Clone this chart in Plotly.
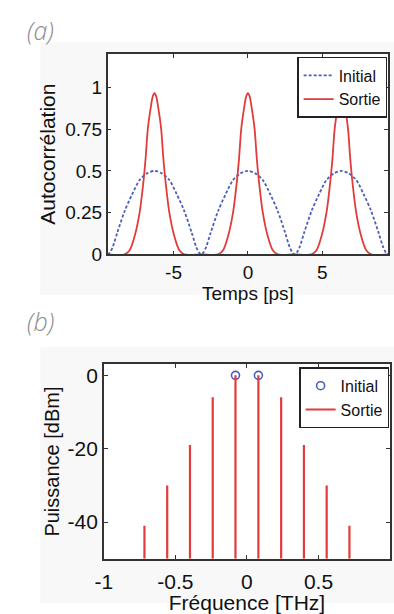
import plotly.graph_objects as go

# (a) autocorrélation
t_init = [-9.42, -9.28, -9.08, -8.78, -8.28, -7.78, -7.28, -6.78, -6.28, -5.78, -5.28, -4.78, -4.28, -3.78, -3.48, -3.28,
          -3.14, -3.00, -2.80, -2.50, -2.00, -1.50, -1.00, -0.50, 0.00, 0.50, 1.00, 1.50, 2.00, 2.50, 2.80, 3.00,
          3.14, 3.28, 3.48, 3.78, 4.28, 4.78, 5.28, 5.78, 6.28, 6.78, 7.28, 7.78, 8.28, 8.78, 9.08, 9.28, 9.42]
ac_init = [0.0, 0.01, 0.045, 0.13, 0.26, 0.36, 0.445, 0.485, 0.50, 0.485, 0.445, 0.36, 0.26, 0.13, 0.045, 0.01,
           0.0, 0.01, 0.045, 0.13, 0.26, 0.36, 0.445, 0.485, 0.50, 0.485, 0.445, 0.36, 0.26, 0.13, 0.045, 0.01,
           0.0, 0.01, 0.045, 0.13, 0.26, 0.36, 0.445, 0.485, 0.50, 0.485, 0.445, 0.36, 0.26, 0.13, 0.045, 0.01, 0.0]

t_sortie = [-9.42, -8.28, -7.95, -7.61, -7.28, -7.03, -6.88, -6.73, -6.53, -6.40, -6.28, -6.16, -6.03, -5.83, -5.68,
            -5.53, -5.28, -4.95, -4.61, -4.28, -3.14,
            -2.00, -1.67, -1.33, -1.00, -0.75, -0.60, -0.45, -0.25, -0.12, 0.00, 0.12, 0.25, 0.45, 0.60, 0.75,
            1.00, 1.33, 1.67, 2.00, 3.14,
            4.28, 4.61, 4.95, 5.28, 5.53, 5.68, 5.83, 6.03, 6.16, 6.28, 6.40, 6.53, 6.73, 6.88, 7.03,
            7.28, 7.61, 7.95, 8.28, 9.42]
ac_sortie = [0.0, 0.0, 0.025, 0.11, 0.25, 0.43, 0.57, 0.75, 0.88, 0.945, 0.965, 0.945, 0.88, 0.75, 0.57,
             0.43, 0.25, 0.11, 0.025, 0.0, 0.0,
             0.0, 0.025, 0.11, 0.25, 0.43, 0.57, 0.75, 0.88, 0.945, 0.965, 0.945, 0.88, 0.75, 0.57, 0.43,
             0.25, 0.11, 0.025, 0.0, 0.0,
             0.0, 0.025, 0.11, 0.25, 0.43, 0.57, 0.75, 0.88, 0.945, 0.965, 0.945, 0.88, 0.75, 0.57, 0.43,
             0.25, 0.11, 0.025, 0.0, 0.0]

# (b) spectre
f_init = [-0.080, 0.080]
p_init = [0, 0]
f_sortie = [-0.716, -0.557, -0.398, -0.239, -0.080, 0.080, 0.239, 0.398, 0.557, 0.716]
p_sortie = [-41, -30, -19, -6, 0, 0, -6, -19, -30, -41]
p_bas = -50

W, H = 394, 614
BLEU = "#4d5fb8"
ROUGE = "#e23b3b"
TXT = "Liberation Sans, Arial"

# raies du spectre : segments verticaux depuis le bas de l'axe
xs, ys = [], []
for f, p in zip(f_sortie, p_sortie):
    xs += [f, f, None]
    ys += [p_bas, p, None]

fig = go.Figure()
fig.add_trace(go.Scatter(x=t_init, y=ac_init, mode="lines", name="Initial",
                         line=dict(color=BLEU, width=1.8, dash="3px,2px", shape="spline", smoothing=0.8),
                         xaxis="x", yaxis="y", legend="legend"))
fig.add_trace(go.Scatter(x=t_sortie, y=ac_sortie, mode="lines", name="Sortie",
                         line=dict(color=ROUGE, width=1.8, shape="spline", smoothing=0.8),
                         xaxis="x", yaxis="y", legend="legend"))
fig.add_trace(go.Scatter(x=f_init, y=p_init, mode="markers", name="Initial",
                         marker=dict(symbol="circle-open", size=8, color=BLEU, line=dict(width=1.6)),
                         xaxis="x2", yaxis="y2", legend="legend2"))
fig.add_trace(go.Scatter(x=xs, y=ys, mode="lines", name="Sortie",
                         line=dict(color=ROUGE, width=2.2),
                         xaxis="x2", yaxis="y2", legend="legend2"))

ax = dict(showline=True, linecolor="#333", linewidth=1.5, mirror="allticks", ticks="inside",
          ticklen=4, tickcolor="#333", showgrid=False, zeroline=False)
fa = dict(family=TXT, size=19, color="#111")
fb = dict(family=TXT, size=21, color="#111")

fig.update_layout(
    width=W, height=H, margin=dict(l=0, r=0, t=0, b=0),
    paper_bgcolor="white", plot_bgcolor="white", showlegend=True,
    xaxis=dict(ax, domain=[101 / W, 388 / W], range=[-9.4248, 9.4248], tickvals=[-5, 0, 5],
               ticktext=["-5", "0", "5"], tickfont=fa, anchor="y",
               title=dict(text="Temps [ps]", font=dict(family=TXT, size=19, color="#111"), standoff=0)),
    yaxis=dict(ax, domain=[1 - 259 / H, 1 - 55 / H], range=[0, 1.2], tickvals=[0, 0.25, 0.5, 0.75, 1],
               ticktext=["0", "0.25", "0.5", "0.75", "1"], tickfont=fa, anchor="x",
               title=dict(text="Autocorrélation", font=dict(family=TXT, size=21, color="#111"), standoff=4)),
    xaxis2=dict(ax, domain=[97 / W, 390 / W], range=[-1, 1], tickvals=[-1, -0.5, 0, 0.5, 1],
                ticktext=["-1", "-0.5", "0", "0.5", "1"], tickfont=fb, anchor="y2", ticklabelstandoff=3,
                title=dict(text="Fréquence [THz]", font=fb, standoff=0)),
    yaxis2=dict(ax, domain=[1 - 569 / H, 1 - 371 / H], range=[-50, 3], tickvals=[-40, -20, 0],
                ticktext=["-40", "-20", "0"], tickfont=fb, anchor="x2",
                title=dict(text="Puissance [dBm]", font=dict(family=TXT, size=20, color="#111"), standoff=2)),
    legend=dict(x=387 / W, y=1 - 58 / H, xanchor="right", yanchor="top", bgcolor="white",
                bordercolor="#222", borderwidth=1.5, font=dict(family=TXT, size=16, color="#111"),
                tracegroupgap=0, itemwidth=30),
    legend2=dict(x=389 / W, y=1 - 374 / H, xanchor="right", yanchor="top", bgcolor="white",
                 bordercolor="#222", borderwidth=1.5, font=dict(family=TXT, size=16, color="#111"),
                 tracegroupgap=0, itemwidth=30),
    shapes=[
        dict(type="rect", xref="paper", yref="paper", x0=32 / W, x1=1, y0=1 - 300 / H, y1=1 - 43 / H,
             fillcolor="#f8f8f8", line_width=0, layer="below"),
        dict(type="rect", xref="paper", yref="paper", x0=101 / W, x1=388 / W, y0=1 - 259 / H, y1=1 - 55 / H,
             fillcolor="white", line_width=0, layer="below"),
        dict(type="rect", xref="paper", yref="paper", x0=32 / W, x1=1, y0=0, y1=1 - 353 / H,
             fillcolor="#f8f8f8", line_width=0, layer="below"),
        dict(type="rect", xref="paper", yref="paper", x0=97 / W, x1=390 / W, y0=1 - 569 / H, y1=1 - 371 / H,
             fillcolor="white", line_width=0, layer="below"),
    ],
    annotations=[
        dict(text="(a)", x=16 / W, y=1 - 31 / H, xref="paper", yref="paper", xanchor="left", yanchor="middle",
             showarrow=False, font=dict(family="Open Sans, Noto Sans", size=25, color="#8c8c8c", style="italic", weight=300)),
        dict(text="(b)", x=16 / W, y=1 - 327 / H, xref="paper", yref="paper", xanchor="left", yanchor="middle",
             showarrow=False, font=dict(family="Open Sans, Noto Sans", size=25, color="#8c8c8c", style="italic", weight=300)),
    ],
)

# la page a une marge de 8 px par défaut : on la supprime pour caler la figure à 394x614
fig.write_html("out.html", config={"displayModeBar": False},
               post_script="document.body.style.margin='0px';")
